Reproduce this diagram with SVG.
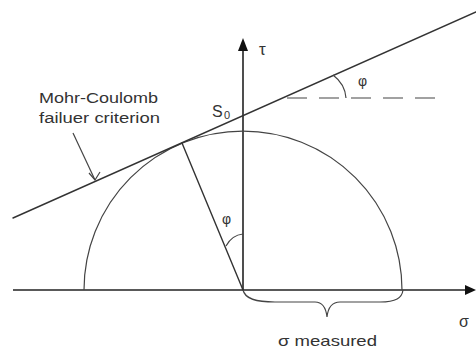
<svg xmlns="http://www.w3.org/2000/svg" width="476" height="352" viewBox="0 0 476 352">
<style>
  .ln { fill: none; stroke: #333; stroke-width: 1.4; stroke-linecap: round; }
  .thin { fill: none; stroke: #444; stroke-width: 1.2; }
  .ax { fill: none; stroke: #222; stroke-width: 1.6; }
  .t { font-family: "Liberation Sans", Arial, sans-serif; fill: #333; }
</style>
<rect width="476" height="352" fill="#fff"/>
<g id="axes">
  <line class="ax" x1="13" y1="290" x2="468" y2="290"/>
  <polygon points="476,290 465,285 465,295" fill="#111"/>
  <line class="ax" x1="243" y1="290" x2="243" y2="48"/>
  <polygon points="243,38 238,51 248,51" fill="#111"/>
</g>
<g id="circle">
  <path class="thin" d="M 84,290 A 159,159 0 0 1 402,290"/>
</g>
<g id="connectors">
  <line class="ln" x1="13" y1="218" x2="476" y2="12"/>
  <line class="ln" x1="182" y1="143" x2="243" y2="290"/>
  <line class="thin" x1="287" y1="98" x2="443" y2="98" stroke-dasharray="20 12"/>
  <path class="thin" d="M 333,75 Q 345,84 346,98"/>
  <path class="thin" d="M 226,246 Q 232,235 243,234"/>
  <line class="thin" x1="73" y1="133" x2="95" y2="180"/>
  <path class="thin" d="M 89,173 L 95,180 L 100,172"/>
  <path class="thin" d="M 243,290 C 245,299 256,302 275,302 L 315,302 C 322,302 326,308 327,317 C 328,308 332,302 340,302 L 380,302 C 396,302 402,298 403,290"/>
</g>
<g id="labels">
  <text class="t" x="39" y="103" font-size="15.5" textLength="119" lengthAdjust="spacingAndGlyphs">Mohr-Coulomb</text>
  <text class="t" x="39" y="123" font-size="15.5" textLength="121" lengthAdjust="spacingAndGlyphs">failuer criterion</text>
  <text class="t" x="212" y="117" font-size="16">S</text>
  <text class="t" x="224" y="119" font-size="11">0</text>
  <text class="t" x="259" y="55" font-size="17">τ</text>
  <text class="t" x="358" y="86" font-size="14">φ</text>
  <text class="t" x="222" y="224" font-size="14">φ</text>
  <text class="t" x="459" y="327" font-size="16">σ</text>
  <text class="t" x="278" y="346" font-size="15" textLength="99" lengthAdjust="spacingAndGlyphs">σ measured</text>
</g>
</svg>
